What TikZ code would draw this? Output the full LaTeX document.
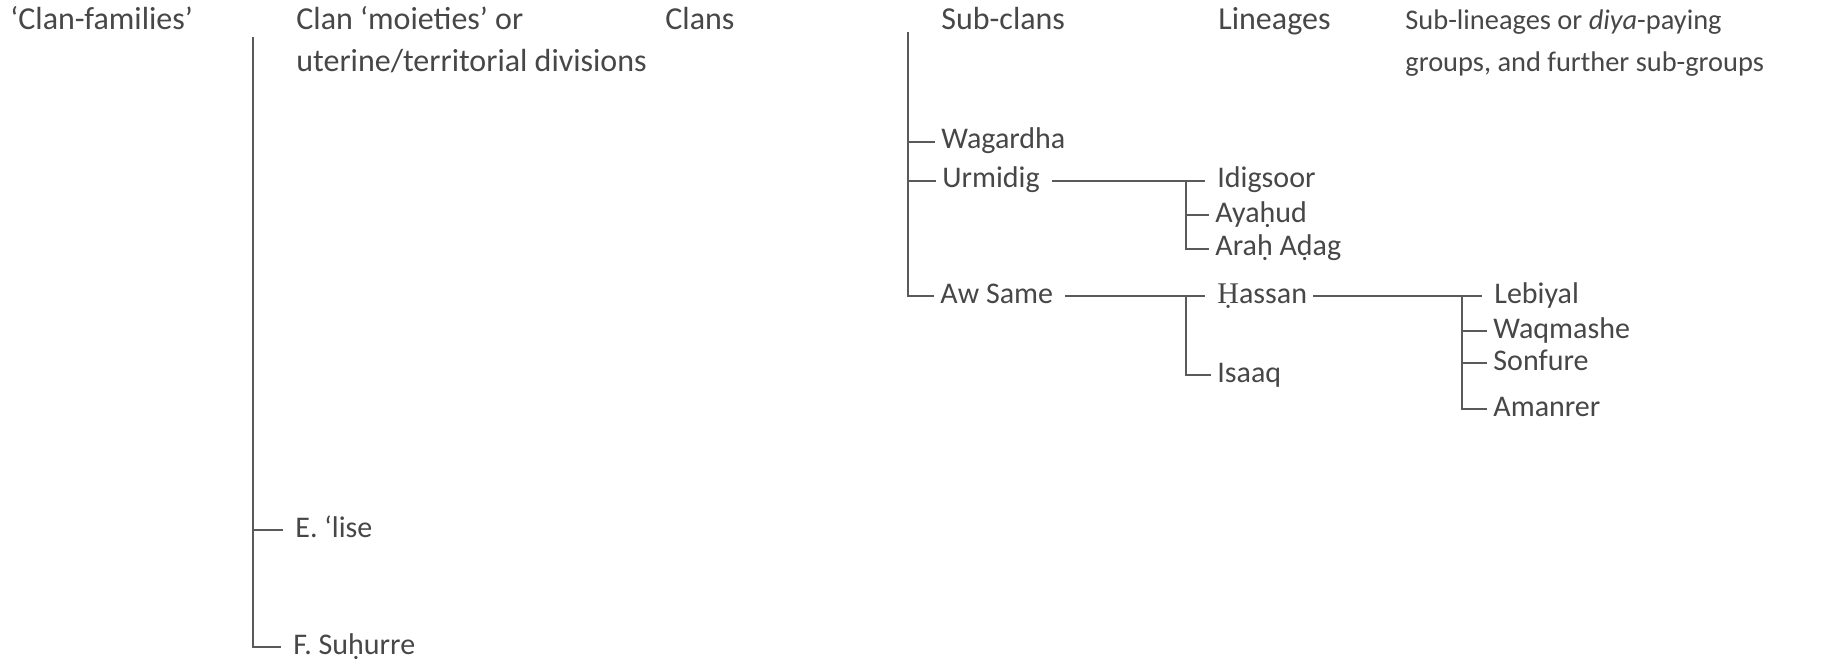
\documentclass[tikz,border=0pt]{standalone}
\usepackage{fontspec}
\setmainfont{Carlito}
\newfontfamily\serifH{Liberation Serif}
\definecolor{ink}{HTML}{474747}
\definecolor{wirec}{HTML}{5A5A5A}
\begin{document}
\begin{tikzpicture}[x=0.5pt,y=-0.5pt,
  every node/.style={text=ink, font=\fontsize{15}{18}\selectfont},
  head/.style={anchor=base west, inner sep=0pt, font=\fontsize{16}{19}\selectfont},
  headnarrow/.style={anchor=base west, inner sep=0pt, font=\fontsize{14.2}{17}\selectfont},
  item/.style={anchor=west, inner xsep=3pt, inner ysep=0pt, text height=11pt, text depth=4pt},
  wire/.style={draw=wirec, line width=1.1pt},
  gap/.style={shorten <=3pt, shorten >=3pt}]
\path[use as bounding box, fill=white] (0,0) rectangle (1839,663);

% headers
\node[head] (hA)  at (10,30)   {‘Clan-families’};
\node[head] (hB1) at (296,30)  {Clan ‘moieties’ or};
\node[head] (hB2) at (296,72)  {uterine/territorial divisions};
\node[head] (hC)  at (665,30)  {Clans};
\node[head] (hD)  at (941,30)  {Sub-clans};
\node[head] (hE)  at (1218,30) {Lineages};
\node[headnarrow] (hF1) at (1405,30) {Sub-lineages or \emph{diya}-paying};
\node[headnarrow] (hF2) at (1405,72) {groups, and further sub-groups};

% items
\node[item] (lise)     at (289,530)  {E. ‘lise};
\node[item] (suhurre)  at (287,647)  {F. Suḥurre};
\node[item] (wagardha) at (935,142)  {Wagardha};
\node[item] (urmidig)  at (936,181)  {Urmidig};
\node[item] (awsame)   at (934,296)  {Aw Same};
\node[item] (idigsoor) at (1211,181) {Idigsoor};
\node[item] (ayahud)   at (1209,215) {Ayaḥud};
\node[item] (araha)    at (1209,249) {Araḥ Aḍag};
\node[item] (hassan)   at (1211,296) {{\serifH Ḥ}assan};
\node[item] (isaaq)    at (1211,375) {Isaaq};
\node[item] (lebiyal)  at (1488,296) {Lebiyal};
\node[item] (waqmashe) at (1487,331) {Waqmashe};
\node[item] (sonfure)  at (1487,363) {Sonfure};
\node[item] (amanrer)  at (1487,409) {Amanrer};

% trunks and junctions
\coordinate (t1) at (253,37);
\coordinate (t2) at (908,32);
\coordinate (j1) at (1186,181);
\coordinate (j2) at (1186,296);
\coordinate (j3) at (1462,296);

\draw[wire, shorten >=3pt] (t1) |- (suhurre.west);
\draw[wire, shorten >=3pt] (t1 |- lise.west) -- (lise.west);

\draw[wire] (t2) |- (awsame.west);
\draw[wire] (t2 |- wagardha.west) -- (wagardha.west);
\draw[wire] (t2 |- urmidig.west) -- (urmidig.west);

\draw[wire, gap] (urmidig.east) -- (idigsoor.west);
\draw[wire] (j1) |- (araha.west);
\draw[wire] (j1 |- ayahud.west) -- (ayahud.west);

\draw[wire, gap] (awsame.east) -- (hassan.west);
\draw[wire] (j2) |- (isaaq.west);

\draw[wire, shorten >=3pt] (hassan.east) -- (lebiyal.west);
\draw[wire] (j3) |- (amanrer.west);
\draw[wire] (j3 |- waqmashe.west) -- (waqmashe.west);
\draw[wire] (j3 |- sonfure.west) -- (sonfure.west);
\end{tikzpicture}
\end{document}
